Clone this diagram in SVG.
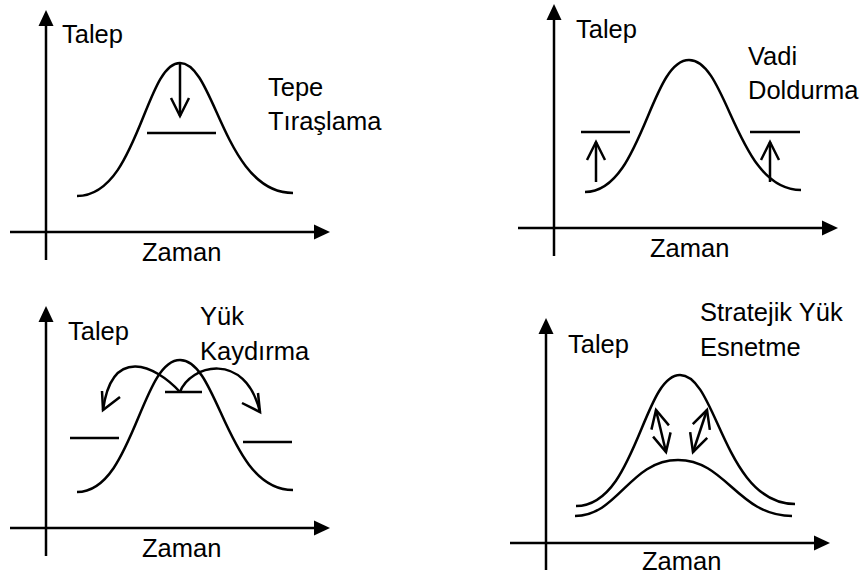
<svg xmlns="http://www.w3.org/2000/svg" width="867" height="576" viewBox="0 0 867 576">
<style>
.ln{fill:none;stroke:#000;stroke-width:2.5}
.ax{fill:none;stroke:#000;stroke-width:2.5;marker-end:url(#tri)}
.ar{fill:none;stroke:#000;stroke-width:2.5;marker-end:url(#vee)}
.da{fill:none;stroke:#000;stroke-width:2.5;marker-start:url(#vee);marker-end:url(#vee)}
text{font-family:"Liberation Sans",Arial,sans-serif;font-size:25.5px;fill:#000}
</style>
<defs>
<marker id="tri" markerUnits="userSpaceOnUse" markerWidth="20" markerHeight="20" viewBox="-10 -10 20 20" refX="0" refY="0" orient="auto"><path d="M-8,-7.5 L8,0 L-8,7.5 Z" fill="#000"/></marker>
<marker id="vee" markerUnits="userSpaceOnUse" markerWidth="26" markerHeight="26" viewBox="-22 -13 26 26" refX="0" refY="0" orient="auto-start-reverse"><path d="M-18,-9 L0,0 L-18,9" fill="none" stroke="#000" stroke-width="2.5"/></marker>
</defs>
<rect width="867" height="576" fill="#fff"/>

<g id="panel-peak">
<path class="ax" d="M46,260 V18"/>
<path class="ax" d="M10,232 H322"/>
<path class="ln" d="M77,196 C138,196 145,63 180,63 C215,63 224,193 293,193"/>
<path class="ln" d="M147,133 H216"/>
<text x="62" y="43">Talep</text>
<text x="268" y="96">Tepe</text>
<text x="268" y="130">Tıraşlama</text>
<text x="142" y="261">Zaman</text>
</g>

<g id="panel-valley">
<path class="ax" d="M554,256 V12"/>
<path class="ax" d="M518,228 H830"/>
<path class="ln" d="M585,192 C642,192 650,60 689,60 C728,60 736,190 801,190"/>
<path class="ln" d="M581,132 H630 M750,132 H800"/>
<text x="576" y="38">Talep</text>
<text x="748" y="65">Vadi</text>
<text x="748" y="99">Doldurma</text>
<text x="650" y="257">Zaman</text>
</g>

<g id="panel-shift">
<path class="ax" d="M46,556 V314"/>
<path class="ax" d="M10,528 H322"/>
<path class="ln" d="M77,492 C133,492 141,360 180,360 C219,360 227,490 293,490"/>
<path class="ln" d="M165,392 H202 M70,438 H119 M243,442 H292"/>
<text x="68" y="340">Talep</text>
<text x="200" y="325">Yük</text>
<text x="200" y="360">Kaydırma</text>
<text x="142" y="557">Zaman</text>
</g>

<g id="panel-stretch">
<path class="ax" d="M546,570 V326"/>
<path class="ax" d="M510,543 H822"/>
<path class="ln" d="M576,506 C636,506 643,375 680,375 C717,375 724,504 795,504"/>
<path class="ln" d="M575,516 C618,516 630,460 678,460 C726,460 738,516 792,516"/>
<text x="568" y="353">Talep</text>
<text x="700" y="321">Stratejik Yük</text>
<text x="700" y="356">Esnetme</text>
<text x="642" y="570">Zaman</text>
</g>

<g id="connectors">
<path class="ar" d="M180,63 V116"/>
<path class="ar" d="M596,182 V142"/>
<path class="ar" d="M770,182 V142"/>
<path class="ln" d="M180,392 C155,365 112,345 103,410"/>
<path class="ln" d="M102,391 L103,410 L120,397"/>
<path class="ln" d="M180,392 C190,365 245,350 260,412"/>
<path class="ln" d="M242,403 L260,412 L258,393"/>
<path class="da" d="M656,410 L666,452"/>
<path class="da" d="M707,410 L693,452"/>
</g>
</svg>
